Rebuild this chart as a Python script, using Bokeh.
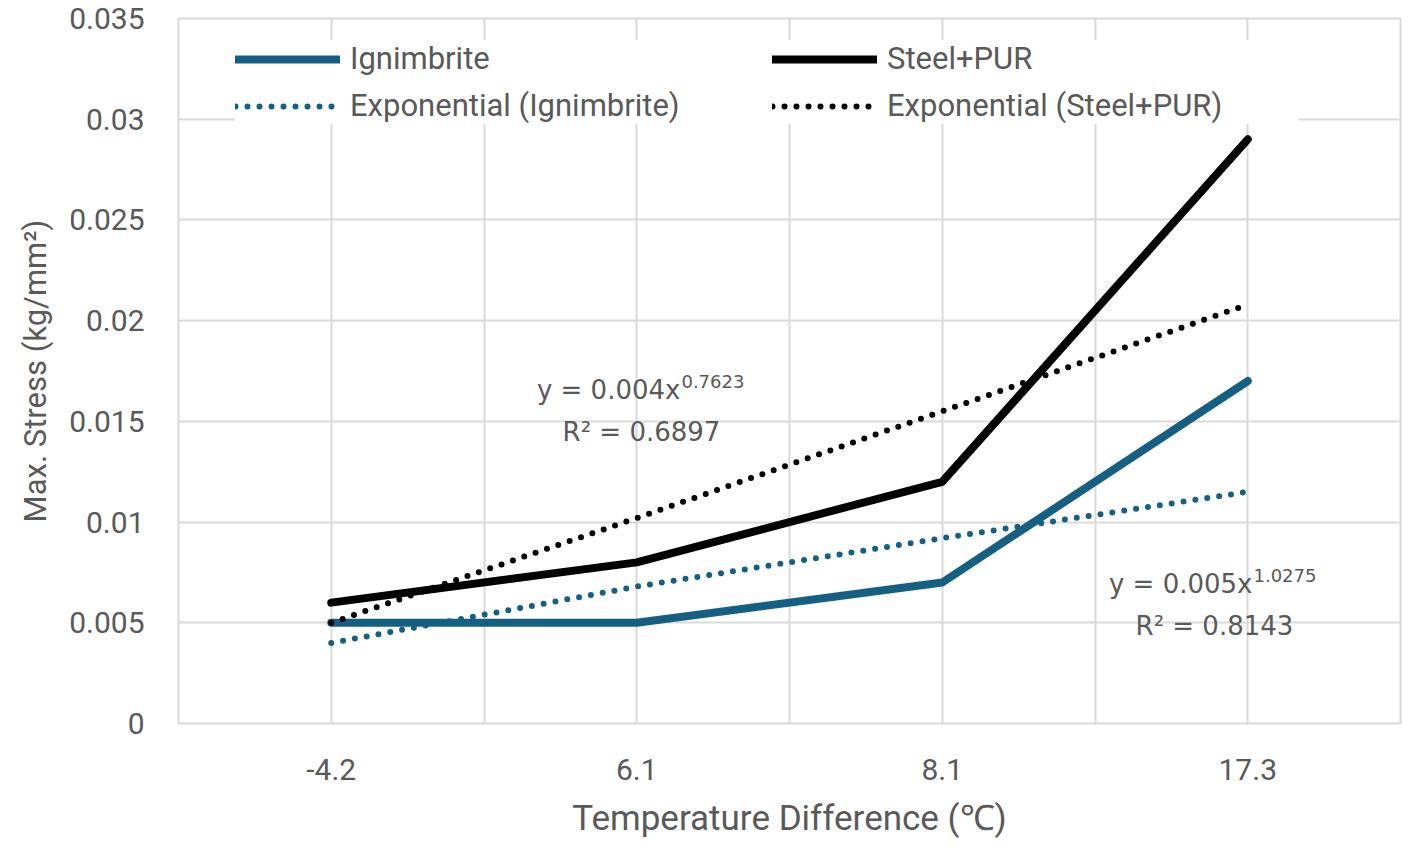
from bokeh.plotting import figure
from bokeh.models import (Range1d, FixedTicker, Legend, LegendItem, Label)
from bokeh.embed import file_html
from bokeh.resources import INLINE

# ---- data ----
categories = ["-4.2", "6.1", "8.1", "17.3"]
x_pos = [1, 2, 3, 4]
ignimbrite = [0.005, 0.005, 0.007, 0.017]
steel_pur = [0.006, 0.008, 0.012, 0.029]
trend_ignimbrite = [0.0040, 0.0068, 0.0092, 0.0115]
trend_steel_pur = [0.0050, 0.0102, 0.0155, 0.0208]
y_ticks = [0, 0.005, 0.01, 0.015, 0.02, 0.025, 0.03, 0.035]
y_tick_labels = ["0", "0.005", "0.01", "0.015", "0.02", "0.025", "0.03", "0.035"]
x_grid_ticks = [0.5, 1, 1.5, 2, 2.5, 3, 3.5, 4, 4.5]

eq1_base, eq1_sup, eq1_r2 = "y = 0.004x", "0.7623", "R² = 0.6897"
eq2_base, eq2_sup, eq2_r2 = "y = 0.005x", "1.0275", "R² = 0.8143"

BLUE = "#156082"
TXT = "#595959"
GRID = "#d9d9d9"
FONT = "Roboto"
EQ_FONT = "DejaVu Sans"

p = figure(width=1402, height=841, output_backend="svg", toolbar_location=None,
           x_range=Range1d(0.5, 4.5), y_range=Range1d(0, 0.035),
           min_border_left=178, min_border_right=2, min_border_top=18,
           min_border_bottom=117)
p.background_fill_color = "white"
p.border_fill_color = "white"
p.outline_line_color = GRID
p.outline_line_width = 2

# axes
p.xaxis.ticker = FixedTicker(ticks=x_pos)
p.xaxis.major_label_overrides = {k: v for k, v in zip(x_pos, categories)}
p.yaxis.ticker = FixedTicker(ticks=y_ticks)
p.yaxis.major_label_overrides = {k: v for k, v in zip(y_ticks, y_tick_labels)}
for ax in (p.xaxis, p.yaxis):
    ax.axis_line_color = None
    ax.major_tick_line_color = None
    ax.minor_tick_line_color = None
    ax.major_tick_out = 0
    ax.major_tick_in = 0
    ax.minor_tick_out = 0
    ax.major_label_text_font = FONT
    ax.major_label_text_font_size = "30px"
    ax.major_label_text_color = TXT
    ax.axis_label_text_font = FONT
    ax.axis_label_text_font_style = "normal"
    ax.axis_label_text_color = TXT
p.yaxis.major_label_standoff = 34
p.xaxis.major_label_standoff = 35
p.xaxis.axis_label = "Temperature Difference (℃)"
p.yaxis.axis_label = "Max. Stress (kg/mm²)"
p.xaxis.axis_label_text_font_size = "35px"
p.yaxis.axis_label_text_font_size = "31px"
p.xaxis.axis_label_standoff = 15
p.yaxis.axis_label_standoff = 12

# grid
p.xgrid.ticker = FixedTicker(ticks=x_grid_ticks)
p.ygrid.ticker = FixedTicker(ticks=y_ticks)
for g in (p.xgrid, p.ygrid):
    g.grid_line_color = GRID
    g.grid_line_width = 2

# series
r_ign = p.line(x_pos, ignimbrite, line_color=BLUE, line_width=8,
               line_cap="round", line_join="round")
r_steel = p.line(x_pos, steel_pur, line_color="black", line_width=8,
                 line_cap="round", line_join="round")
r_tign = p.line(x_pos, trend_ignimbrite, line_color=BLUE, line_width=6,
                line_dash="0 12", line_cap="round")
r_tsteel = p.line(x_pos, trend_steel_pur, line_color="black", line_width=6,
                  line_dash="0 12", line_cap="round")

legend = Legend(items=[
    LegendItem(label="Ignimbrite", renderers=[r_ign]),
    LegendItem(label="Exponential (Ignimbrite)", renderers=[r_tign]),
    LegendItem(label="Steel+PUR", renderers=[r_steel]),
    LegendItem(label="Exponential (Steel+PUR)", renderers=[r_tsteel]),
], ncols=2, location=(57, 599))
legend.label_text_font = FONT
legend.label_text_font_size = "31px"
legend.label_text_color = TXT
legend.glyph_width = 105
legend.glyph_height = 20
legend.label_height = 37
legend.label_width = 412
legend.label_standoff = 10
legend.spacing = 10
legend.padding = 10
legend.margin = 0
legend.background_fill_color = "white"
legend.background_fill_alpha = 1.0
legend.border_line_color = None
p.add_layout(legend, "center")

# trendline equations
def eq(xb, yb, base, sup, xr, yr, r2):
    p.add_layout(Label(x=xb, y=yb, text=base, text_align="right", text_baseline="alphabetic",
                       text_font=EQ_FONT, text_font_size="26px", text_color=TXT))
    p.add_layout(Label(x=xb, y=yb, y_offset=8, x_offset=1, text=sup, text_align="left",
                       text_baseline="alphabetic",
                       text_font=EQ_FONT, text_font_size="18px", text_color=TXT))
    p.add_layout(Label(x=xr, y=yr, text=r2, text_align="center", text_baseline="alphabetic",
                       text_font=EQ_FONT, text_font_size="26px", text_color=TXT))

eq(2.143, 0.01658, eq1_base, eq1_sup, 2.0155, 0.01445, eq1_r2)
eq(4.0155, 0.00695, eq2_base, eq2_sup, 3.891, 0.00482, eq2_r2)

open("out.html", "w").write(file_html(p, INLINE))
